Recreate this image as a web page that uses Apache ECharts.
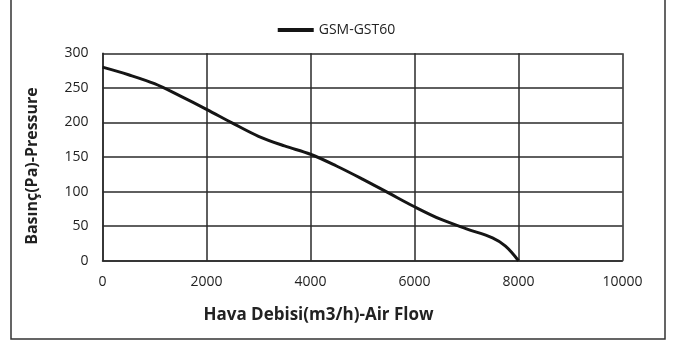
<!DOCTYPE html>
<html>
<head>
<meta charset="utf-8">
<script src="https://cdn.jsdelivr.net/npm/echarts@6/dist/echarts.min.js"></script>
<style>
  html, body { margin: 0; padding: 0; background: #fff; }
  #chart { width: 673px; height: 340px; }
</style>
</head>
<body>
<div id="chart"></div>
<script>
// Fan performance curve: air flow (m3/h) vs static pressure (Pa)
const seriesName = 'GSM-GST60';
const airFlow = [0, 500, 1000, 1500, 2000, 2500, 3000, 3500, 4000, 4500, 5000, 5500, 6000, 6500, 7000, 7500, 7750, 8000];
const pressure = [280, 269, 256, 238, 219, 199, 180, 166, 154, 137, 118, 98, 78, 60, 46, 33, 21, 0];
const xTicks = [0, 2000, 4000, 6000, 8000, 10000];
const yTicks = [0, 50, 100, 150, 200, 250, 300];

const chart = echarts.init(document.getElementById('chart'));
const font = '"Open Sans", "Liberation Sans", sans-serif';
const gridColor = '#2a2a2a';

chart.setOption({
  animation: false,
  backgroundColor: '#ffffff',
  textStyle: { fontFamily: font },
  graphic: [{
    type: 'rect',
    shape: { x: 11, y: -5, width: 654, height: 344 },
    style: { fill: 'none', stroke: '#333', lineWidth: 1.5 },
    silent: true
  }],
  legend: {
    top: 18,
    left: 'center',
    icon: 'rect',
    itemWidth: 36,
    itemHeight: 4,
    itemGap: 2,
    textStyle: { fontSize: 14, color: '#222', fontFamily: font },
    data: [seriesName]
  },
  grid: { left: 102.5, right: 50.5, top: 53.3, bottom: 79.3, containLabel: false },
  xAxis: {
    type: 'value',
    min: xTicks[0],
    max: xTicks[xTicks.length - 1],
    interval: xTicks[1] - xTicks[0],
    name: 'Hava Debisi(m3/h)-Air Flow',
    nameLocation: 'middle',
    nameGap: 46,
    nameTextStyle: { fontSize: 17, fontWeight: 'bold', color: '#222', fontFamily: font, padding: [0, 88, 0, 0] },
    axisLine: { show: true, lineStyle: { color: gridColor, width: 1.5 } },
    axisTick: { show: false },
    axisLabel: { fontSize: 14, color: '#222', margin: 14, formatter: v => String(v) },
    splitLine: { show: true, lineStyle: { color: gridColor, width: 1.5 } }
  },
  yAxis: {
    type: 'value',
    min: yTicks[0],
    max: yTicks[yTicks.length - 1],
    interval: yTicks[1] - yTicks[0],
    name: 'Basınç(Pa)-Pressure',
    nameLocation: 'middle',
    nameGap: 62,
    nameTextStyle: { fontSize: 16, fontWeight: 'bold', color: '#222', fontFamily: font, padding: [0, 18, 0, 0] },
    axisLine: { show: true, lineStyle: { color: gridColor, width: 1.5 } },
    axisTick: { show: false },
    axisLabel: { fontSize: 14, color: '#222', margin: 14 },
    splitLine: { show: true, lineStyle: { color: gridColor, width: 1.5 } }
  },
  series: [{
    name: seriesName,
    type: 'line',
    smooth: 0.35,
    showSymbol: false,
    lineStyle: { color: '#151515', width: 3 },
    itemStyle: { color: '#151515' },
    data: airFlow.map((x, i) => [x, pressure[i]])
  }]
});
</script>
</body>
</html>
